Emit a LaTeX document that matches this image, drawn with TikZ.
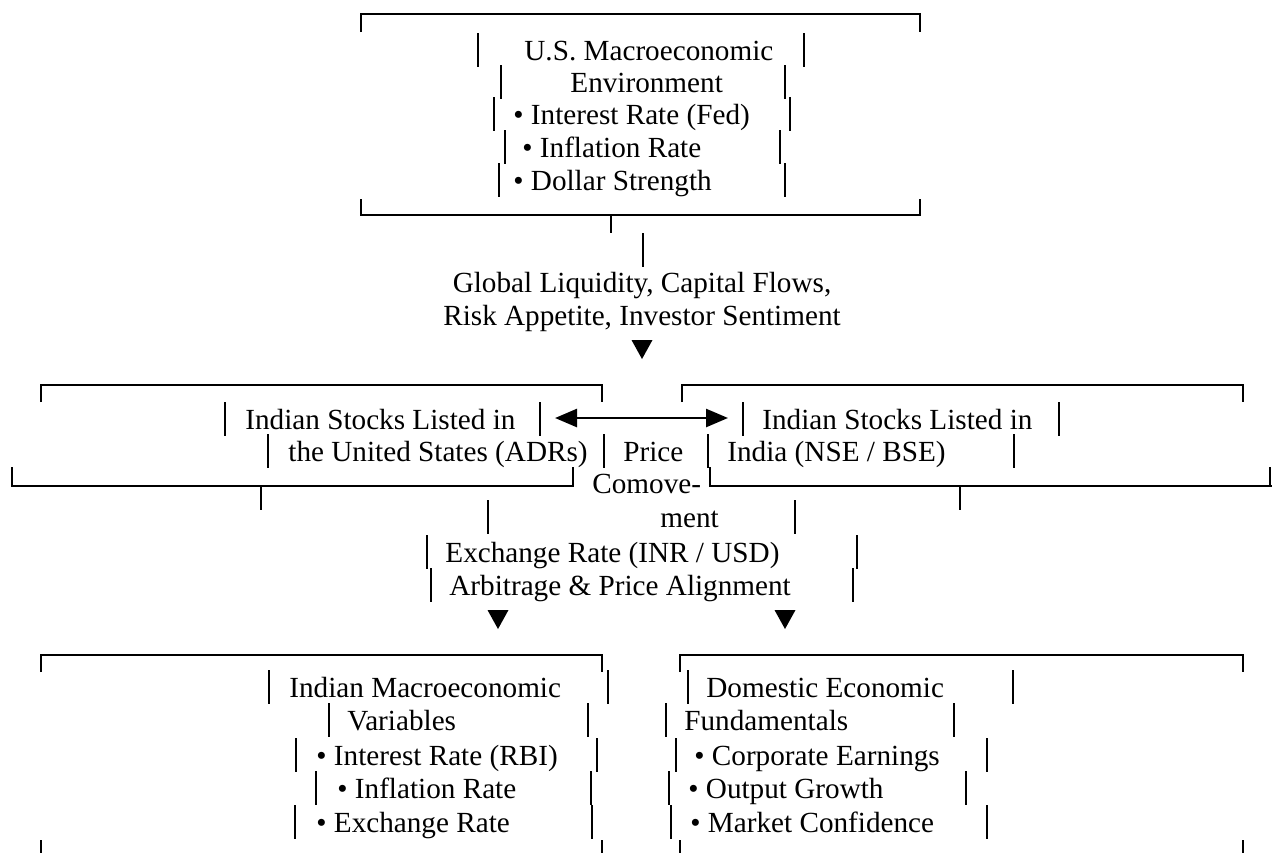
\documentclass[tikz,border=0pt]{standalone}
\usepackage{fontspec}
\setmainfont{Liberation Serif}
\usetikzlibrary{arrows.meta}

\begin{document}
\begin{tikzpicture}[x=0.5pt,y=-0.5pt,
    txt/.style={inner sep=0pt,anchor=base west,font=\fontsize{14.6}{16}\selectfont},
    ctxt/.style={txt,anchor=base},
    rule/.style={line width=1.4pt},
    bar/.style={line width=1.4pt},
    tri/.style={fill=black}]
    \useasboundingbox[fill=white] (0,0) rectangle (1272,853);

    \draw[rule] (361,32) -- (361,14) -- (920,14) -- (920,32);
    \draw[rule] (361,199) -- (361,215) -- (920,215) -- (920,199);
    \draw[rule] (611,215) -- (611,233);
    \node[txt] (us1) at (524,60) {U.S. Macroeconomic};
    \node[txt] (us2) at (570,92) {Environment};
    \node[txt] (us3) at (513,124) {• Interest Rate (Fed)};
    \node[txt] (us4) at (522,157) {• Inflation Rate};
    \node[txt] (us5) at (513,190) {• Dollar Strength};
    \foreach \x/\y in {478/60,804/60,501/92,785/92,494/124,790/124,505/157,780/157,499/190,785/190,643/260}
        \draw[bar] (\x,\y-27) -- (\x,\y+7);

    \node[ctxt] (glob1) at (642,292) {Global Liquidity, Capital Flows,};
    \node[ctxt] (glob2) at (642,325) {Risk Appetite, Investor Sentiment};

    \draw[rule] (41,402) -- (41,385) -- (602,385) -- (602,402);
    \draw[rule] (682,402) -- (682,385) -- (1243,385) -- (1243,402);
    \draw[rule] (12,467) -- (12,486) -- (573,486) -- (573,467);
    \draw[rule] (710,467) -- (710,486) -- (1272,486);
    \draw[rule] (1270,467) -- (1270,486);
    \draw[rule] (261,486) -- (261,510);
    \draw[rule] (960,486) -- (960,510);
    \node[txt] (adr1) at (245,429) {Indian Stocks Listed in};
    \node[txt] (adr2) at (288,461) {the United States (ADRs)};
    \node[txt] (nse1) at (762,429) {Indian Stocks Listed in};
    \node[txt] (nse2) at (727,461) {India (NSE / BSE)};
    \node[txt] (price) at (623,461) {Price};
    \node[txt] (comove) at (592,493) {Comove-};
    \node[txt] (ment) at (660,527) {ment};
    \node[txt] (fx) at (445,562) {Exchange Rate (INR / USD)};
    \node[txt] (arb) at (449,595) {Arbitrage \& Price Alignment};
    \coordinate (adrR) at (555,418);
    \coordinate (nseL) at (728,418);
    \draw[line width=1.3pt,{Triangle[length=11pt,width=9pt]}-{Triangle[length=11pt,width=9pt]}] (adrR) -- (nseL);
    \foreach \x/\y in {225/429,540/429,743/429,1059/429,268/461,604/461,708/461,1014/461,488/527,795/527,427/562,857/562,431/595,853/595}
        \draw[bar] (\x,\y-27) -- (\x,\y+7);

    \foreach \x/\y in {642/340,498/610,785/610}
        \fill[tri] (\x-10.5,\y) -- (\x+10.5,\y) -- (\x,\y+19) -- cycle;

    \draw[rule] (41,672) -- (41,655) -- (602,655) -- (602,672);
    \draw[rule] (680,672) -- (680,655) -- (1243,655) -- (1243,672);
    \foreach \x in {41,602,680,1243}
        \draw[rule] (\x,840) -- (\x,853);
    \node[txt] (inm1) at (289,697) {Indian Macroeconomic};
    \node[txt] (inm2) at (347,730) {Variables};
    \node[txt] (inm3) at (316,765) {• Interest Rate (RBI)};
    \node[txt] (inm4) at (337,798) {• Inflation Rate};
    \node[txt] (inm5) at (316,832) {• Exchange Rate};
    \node[txt] (dom1) at (706,697) {Domestic Economic};
    \node[txt] (dom2) at (684,730) {Fundamentals};
    \node[txt] (dom3) at (694,765) {• Corporate Earnings};
    \node[txt] (dom4) at (688,798) {• Output Growth};
    \node[txt] (dom5) at (690,832) {• Market Confidence};
    \foreach \x/\y in {269/697,608/697,329/730,588/730,296/765,597/765,316/798,591/798,295/832,592/832,688/697,1013/697,666/730,954/730,676/765,987/765,669/798,966/798,671/832,987/832}
        \draw[bar] (\x,\y-27) -- (\x,\y+7);
\end{tikzpicture}
\end{document}
